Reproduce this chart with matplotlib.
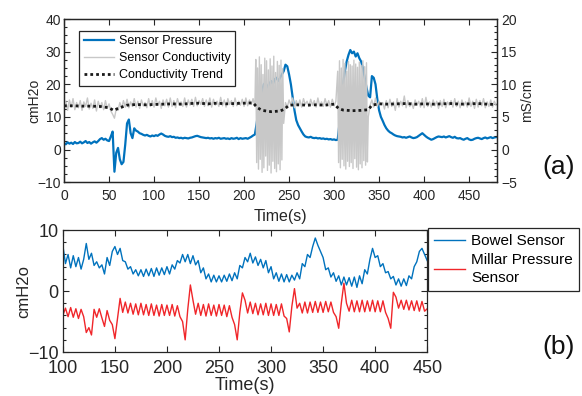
import matplotlib
matplotlib.use("Agg")
import matplotlib.pyplot as plt
from matplotlib.ticker import MultipleLocator
import numpy as np

plt.rcParams['font.family'] = ['Liberation Sans', 'DejaVu Sans']

# ---- panel (a): sensor pressure, sampled every 2 s ----
t_top = np.arange(0, 481, 2)

pressure = [
    2.0, 1.6, 2.2, 1.8, 2.1, 1.7, 2.3, 1.9, 2.0, 2.4,
    1.9, 2.2, 2.6, 2.0, 2.3, 1.8, 2.2, 2.5, 2.1, 2.6,
    3.2, 3.5, 3.0, 3.3, 2.8, 2.6, 4.0, 5.5, -6.8, -1.0,
    0.5, -3.0, -4.5, -3.8, 1.5, 8.0, 9.2, 5.0, 3.5, 6.5,
    5.8, 5.5, 5.0, 4.8, 4.5, 4.3, 4.5, 4.2, 4.0, 4.3,
    4.1, 4.4, 4.2, 4.6, 4.9, 4.6, 4.2, 4.0, 3.9, 4.1,
    3.8, 3.9, 3.6, 3.7, 3.5, 3.6, 3.4, 3.6, 3.5, 3.4,
    3.6, 3.7, 3.9, 4.1, 4.2, 4.0, 3.8, 3.7, 3.6, 3.5,
    3.6, 3.4, 3.5, 3.3, 3.5, 3.4, 3.6, 3.3, 3.4, 3.5,
    3.3, 3.4, 3.2, 3.5, 3.3, 3.4, 3.6, 3.2, 3.5, 3.3,
    3.4, 3.5, 3.3, 3.6, 3.9, 4.3, 4.6, 8.0, 12.0, 15.0,
    18.0, 20.0, 20.5, 19.0, 20.0, 21.0, 20.0, 21.5, 22.0, 21.0,
    22.0, 23.0, 24.0, 26.0, 25.5, 23.0, 20.0, 16.0, 12.0, 9.0,
    7.5, 6.5, 5.5, 4.6, 4.0, 3.8, 3.7, 3.9, 3.6, 3.5,
    3.6, 3.4, 3.5, 3.3, 3.4, 3.2, 3.3, 3.1, 3.2, 3.0,
    3.1, 2.9, 3.0, 8.0, 14.0, 20.0, 24.0, 27.0, 29.0, 30.5,
    29.5, 30.0, 28.5, 29.5, 28.0, 27.0, 25.0, 22.0, 19.0, 16.5,
    16.0, 22.5, 22.0, 20.0, 15.5, 12.0, 10.0, 8.8, 7.5, 6.5,
    5.8, 5.3, 5.0, 4.6, 4.3, 4.1, 4.0, 3.9, 3.7, 3.8,
    3.6, 3.8, 4.0, 3.7, 3.5, 3.6, 3.8, 4.2, 4.6, 5.0,
    4.5, 4.0, 3.6, 3.3, 3.0, 3.2, 3.5, 3.8, 4.0, 3.9,
    3.8, 4.0, 3.7, 3.9, 4.1, 3.8, 3.6, 3.9, 3.5, 3.4,
    3.5, 3.2, 3.0, 3.3, 3.5, 3.1, 2.9, 3.0, 3.3, 3.5,
    3.6, 3.4, 3.2, 3.5, 3.7, 3.4, 3.6, 3.8, 3.5, 3.7,
    3.8,
]

# ---- panel (a): conductivity, 2 s outside the bursts, 1 s inside them ----
cond_a = [  # 0 .. 212 s
    6.2, 7.4, 6.0, 7.6, 6.5, 7.8, 6.1, 7.2, 6.4, 7.5,
    6.0, 7.3, 6.6, 7.9, 6.2, 7.1, 6.3, 7.6, 5.9, 7.4,
    6.4, 7.2, 6.1, 7.5, 6.3, 7.0, 5.9, 5.4, 4.8, 6.2,
    6.0, 7.2, 6.3, 7.5, 6.5, 7.7, 6.4, 7.3, 6.6, 7.8,
    6.5, 7.4, 6.3, 7.6, 6.7, 7.2, 6.4, 7.8, 6.6, 7.5,
    6.5, 7.9, 6.8, 7.4, 6.3, 7.6, 6.7, 7.7, 6.5, 7.9,
    6.6, 7.5, 6.4, 7.8, 6.9, 7.3, 6.6, 7.9, 6.5, 7.6,
    6.8, 7.7, 6.6, 8.0, 6.7, 7.5, 6.9, 7.8, 6.6, 7.6,
    6.7, 7.9, 6.5, 7.7, 6.8, 7.4, 6.6, 8.0, 6.7, 7.6,
    6.5, 7.8, 6.9, 7.5, 6.6, 7.9, 6.7, 7.4, 6.8, 7.7,
    6.6, 7.9, 6.7, 7.6, 6.9, 7.8, 6.6,
]
burst1 = [  # 213 .. 244 s
    13.8, -2.0, 12.5, -3.0, 14.2, -1.5, 13.0, -3.5, 11.5, -2.8,
    14.0, -1.0, 13.6, -3.2, 12.2, -2.4, 13.9, -3.6, 12.8, -1.8,
    14.3, -2.9, 11.8, -3.4, 13.5, -2.2, 12.9, -3.1, 13.7, -1.6,
    12.4, 4.0,
]
cond_b = [  # 246 .. 302 s
    7.2, 6.5, 7.6, 6.8, 7.9, 6.4, 7.5,
    6.7, 7.6, 6.5, 7.8, 6.9, 7.4, 6.6, 7.7, 6.8, 7.5,
    6.5, 7.9, 6.7, 7.3, 6.6, 7.8, 6.8, 7.5, 6.5, 7.7,
    6.7, 7.4,
]
burst2 = [  # 304 .. 338 s
    12.0, -2.0, 13.6, -2.8, 12.5, -1.5, 13.8, -2.5, 13.2, -3.0,
    12.0, -1.8, 13.5, -2.6, 13.0, -2.0, 12.8, -2.9, 13.7, -1.4,
    13.1, -2.7, 12.6, -3.1, 13.4, -2.2, 12.9, -2.8, 13.6, -1.7,
    12.7, -2.4, 13.3, -1.9, 5.0,
]
cond_c = [  # 340 .. 480 s
    6.8, 7.6, 6.5, 7.9, 6.6, 7.4, 6.9, 7.2, 6.2, 7.5,
    6.4, 7.7, 6.6, 7.3, 6.0, 7.8, 6.5, 7.4, 6.7, 8.2,
    6.4, 7.5, 6.6, 7.2, 6.3, 7.6, 6.8, 7.4, 6.5, 7.8,
    6.4, 8.0, 6.6, 7.3, 6.5, 7.6, 6.7, 7.4, 6.3, 7.5,
    6.6, 7.7, 6.4, 7.3, 6.8, 7.5, 6.5, 7.8, 6.6, 7.4,
    6.4, 7.6, 6.7, 7.3, 6.5, 7.9, 6.6, 7.4, 6.3, 7.7,
    6.5, 7.5, 6.7, 7.8, 6.4, 7.3, 6.6, 7.6, 6.5, 7.4,
    6.8,
]
t_cond = np.concatenate([np.arange(0, 213, 2), np.arange(213, 245, 1),
                         np.arange(246, 303, 2), np.arange(304, 339, 1),
                         np.arange(340, 481, 2)])
conductivity = cond_a + burst1 + cond_b + burst2 + cond_c

t_trend = [0, 10, 20, 30, 40, 50, 55, 60, 70, 80, 90, 100, 110, 120, 130,
           140, 150, 160, 170, 180, 190, 200, 210, 215, 220, 230, 240, 245,
           250, 260, 270, 280, 290, 300, 305, 310, 320, 330, 338, 342, 350,
           360, 370, 380, 390, 400, 410, 420, 430, 440, 450, 460, 470, 480]
trend = [6.7, 6.7, 6.65, 6.65, 6.6, 6.4, 6.0, 6.3, 6.8, 6.9, 6.85, 6.9,
         6.95, 7.0, 6.95, 7.05, 7.1, 7.0, 7.1, 7.0, 7.05, 7.1, 7.15, 6.4,
         6.0, 5.8, 5.9, 6.2, 6.8, 6.85, 6.8, 6.85, 6.8, 6.95, 6.3, 6.05,
         5.95, 6.0, 6.1, 6.8, 7.0, 6.95, 7.0, 7.05, 6.95, 7.0, 6.95, 7.0,
         7.05, 6.95, 7.0, 7.05, 6.95, 6.9]

# ---- panel (b): bowel sensor vs Millar, sampled every 2.5 s ----
t_bot = np.arange(100, 450.1, 2.5)

bowel = [
    7.5, 4.5, 6.0, 3.8, 5.8, 4.0, 5.5, 3.6, 5.2, 7.8,
    5.2, 6.2, 4.2, 4.8, 3.8, 4.3, 2.8, 5.5, 4.2, 6.5,
    7.3, 6.0, 7.0, 5.0, 4.8, 3.6, 4.0, 2.8, 3.5, 2.5,
    3.5, 2.4, 3.6, 2.5, 3.7, 2.4, 3.8, 2.6, 3.8, 2.7,
    4.0, 2.8, 4.3, 3.6, 5.0, 4.6, 6.0, 4.8, 6.0, 4.5,
    5.8, 4.3, 5.0, 3.0, 3.8, 2.0, 2.8, 1.5, 2.6, 1.5,
    2.5, 1.5, 2.6, 1.6, 2.8, 1.7, 3.0, 2.0, 4.2, 3.8,
    5.5, 4.8, 6.2, 4.6, 5.6, 4.2, 5.2, 3.8, 5.0, 3.0,
    4.0, 2.0, 3.0, 1.6, 2.8, 1.5, 2.7, 1.5, 2.6, 1.8,
    3.0, 2.0, 4.5, 4.0, 6.0, 5.5, 7.3, 8.7, 7.5, 6.5,
    5.5, 3.5, 3.8, 2.3, 3.0, 1.6, 2.5, 1.0, 2.3, 1.0,
    2.2, 0.8, 2.3, 0.6, 2.5, 1.2, 3.5, 2.8, 5.2, 7.0,
    5.5, 5.8, 4.0, 4.5, 3.0, 3.2, 2.0, 2.4, 1.0, 2.0,
    0.8, 2.0, 0.9, 2.5, 2.0, 4.0, 4.8, 6.5, 7.0, 6.0,
    5.0,
]

millar = [
    -4.0, -2.8, -4.2, -2.7, -4.3, -2.9, -4.5, -3.0, -4.2, -6.8,
    -6.0, -7.2, -3.0, -4.3, -2.9, -4.4, -5.8, -3.2, -4.8, -5.5,
    -7.8, -4.5, -1.2, -3.5, -1.8, -3.6, -2.0, -3.8, -2.1, -3.9,
    -2.0, -3.9, -2.2, -4.0, -2.1, -4.0, -2.3, -4.1, -2.2, -4.0,
    -2.3, -4.0, -2.2, -4.1, -2.4, -4.2, -5.0, -8.0, -3.0, 1.0,
    -1.5, -3.8, -2.0, -4.0, -2.2, -4.1, -2.1, -4.0, -2.3, -4.1,
    -2.2, -4.0, -2.3, -4.2, -2.4, -4.3, -5.5, -8.0, -3.5, -0.3,
    -1.5, -3.6, -1.8, -3.7, -2.0, -3.9, -2.1, -3.9, -2.0, -4.0,
    -2.1, -4.0, -2.2, -4.0, -2.1, -4.1, -4.5, -6.7, -2.5, 0.4,
    -2.8, -2.0, -3.6, -1.8, -3.6, -1.8, -3.5, -1.7, -3.5, -1.8,
    -3.5, -1.7, -3.4, -1.8, -3.5, -4.2, -6.1, -2.0, 1.3, -2.0,
    -3.3, -1.5, -3.4, -1.6, -3.4, -1.5, -3.4, -1.6, -3.3, -1.5,
    -3.4, -1.6, -3.4, -1.6, -3.5, -4.5, -6.1, -0.2, -1.0, -2.8,
    -1.5, -3.0, -1.5, -3.1, -1.6, -3.2, -1.6, -3.3, -1.7, -3.3,
    -2.9,
]

blue = '#0072BD'
ink = '#262626'


def style_axis(ax, size):
    ax.tick_params(which='both', direction='in', top=True, colors=ink,
                   labelsize=size, width=0.8)
    ax.tick_params(which='major', length=4)
    ax.tick_params(which='minor', length=2)
    for s in ax.spines.values():
        s.set_color(ink)
        s.set_linewidth(0.9)


fig = plt.figure(figsize=(5.82, 3.96), dpi=100)

# top panel
ax1 = fig.add_axes([0.110, 0.540, 0.744, 0.412])
ax2 = ax1.twinx()
l1, = ax1.plot(t_top, pressure, color=blue, lw=1.6, label='Sensor Pressure')
l2, = ax2.plot(t_cond, conductivity, color='#c8c8c8', lw=1.0,
               label='Sensor Conductivity')
l3, = ax2.plot(t_trend, trend, color='#1a1a1a', lw=2.0, ls=(0, (1, 1.1)),
               label='Conductivity Trend')
ax1.set_xlim(0, 481)
ax1.set_ylim(-10, 40)
ax2.set_ylim(-5, 20)
ax1.set_xticks(np.arange(0, 451, 50))
ax1.yaxis.set_major_locator(MultipleLocator(10))
ax1.yaxis.set_minor_locator(MultipleLocator(2.5))
ax2.yaxis.set_major_locator(MultipleLocator(5))
ax2.yaxis.set_minor_locator(MultipleLocator(1))
style_axis(ax1, 10)
style_axis(ax2, 10)
ax1.tick_params(right=False, which='both')
ax1.tick_params(axis='x', pad=5)
ax1.tick_params(axis='y', pad=2)
ax2.tick_params(axis='y', pad=3)
ax1.set_xlabel('Time(s)', fontsize=11.5, color=ink, labelpad=4)
ax1.set_ylabel('cmH2o', fontsize=10, color=ink)
ax1.yaxis.set_label_coords(-0.052, 0.5)
ax2.set_ylabel('mS/cm', fontsize=10, color=ink, labelpad=2)
leg1 = ax2.legend(handles=[l1, l2, l3], loc='upper left',
                  bbox_to_anchor=(0.035, 0.926), fontsize=9, fancybox=False,
                  edgecolor=ink, framealpha=1, borderaxespad=0,
                  handlelength=2.4, borderpad=0.35, labelspacing=0.4,
                  handletextpad=0.4)
leg1.get_frame().set_linewidth(0.9)

# bottom panel
ax3 = fig.add_axes([0.108, 0.111, 0.626, 0.308])
b1, = ax3.plot(t_bot, bowel, color=blue, lw=1.0, label='Bowel Sensor')
b2, = ax3.plot(t_bot, millar, color='#f0262a', lw=1.0,
               label='Millar Pressure\nSensor')
ax3.set_xlim(100, 450)
ax3.set_ylim(-10, 10)
ax3.set_xticks(np.arange(100, 451, 50))
ax3.yaxis.set_major_locator(MultipleLocator(10))
ax3.yaxis.set_minor_locator(MultipleLocator(2))
style_axis(ax3, 13)
ax3.tick_params(which='both', right=True)
ax3.tick_params(axis='x', pad=6)
ax3.tick_params(axis='y', pad=3)
ax3.set_xlabel('Time(s)', fontsize=13, color=ink, labelpad=0)
ax3.set_ylabel('cmH2o', fontsize=12, color=ink)
ax3.yaxis.set_label_coords(-0.088, 0.5)
leg2 = fig.legend(handles=[b1, b2], loc='upper left',
                  bbox_to_anchor=(0.736, 0.424), fontsize=11,
                  fancybox=False, edgecolor=ink, framealpha=1,
                  borderaxespad=0, handlelength=2.0, borderpad=0.4,
                  labelspacing=0.3, handletextpad=0.4)
leg2.get_frame().set_linewidth(0.9)
for txt in leg2.get_texts():
    txt.set_linespacing(1.35)

fig.text(0.959, 0.578, '(a)', fontsize=19, ha='center', va='center', color='#111111')
fig.text(0.959, 0.124, '(b)', fontsize=19, ha='center', va='center', color='#111111')

fig.savefig('out.png', dpi=100)
